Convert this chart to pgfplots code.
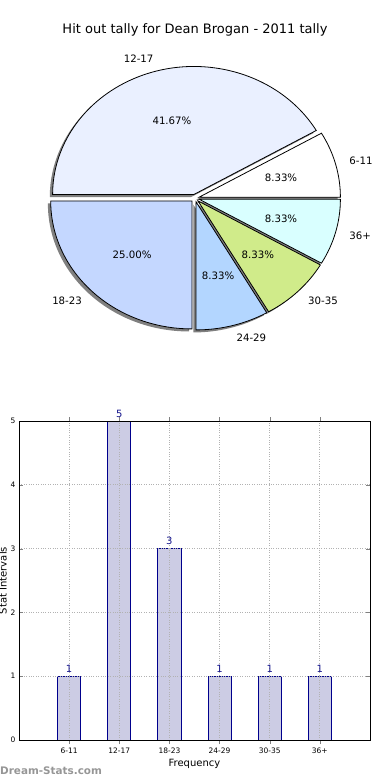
\documentclass[border=0pt]{standalone}
\usepackage{pgfplots}
\pgfplotsset{compat=1.18}
\usepackage{pgfplotstable}
\usepackage{fontspec}
\setmainfont{DejaVu Sans}

\definecolor{pieA}{RGB}{255,255,255}
\definecolor{pieB}{RGB}{234,240,255}
\definecolor{pieC}{RGB}{196,215,255}
\definecolor{pieD}{RGB}{179,214,255}
\definecolor{pieE}{RGB}{208,235,138}
\definecolor{pieF}{RGB}{217,255,255}
\definecolor{barfill}{RGB}{204,204,228}
\definecolor{baredge}{RGB}{0,0,140}
\definecolor{valcol}{RGB}{20,20,140}
\definecolor{wmark}{RGB}{150,150,150}

\pgfplotstableread{
label value col
6-11 1 pieA
12-17 5 pieB
18-23 3 pieC
24-29 1 pieD
30-35 1 pieE
36+ 1 pieF
}\piedata

\pgfplotstableread{
x label count
0 6-11 1
1 12-17 5
2 18-23 3
3 24-29 1
4 30-35 1
5 36+ 1
}\bardata

\newcommand\pief{\fontsize{10.2}{12}\selectfont}
\def\RX{141.3pt}
\def\RY{128pt}
\def\explode{0.03}

\begin{document}
\begin{tikzpicture}[x=1pt,y=1pt]
\useasboundingbox (0,0) rectangle (390,780);
\node[font=\fontsize{13}{15}\selectfont] at (195,750) {Hit out tally for Dean Brogan - 2011 tally};

% ---------------- pie ----------------
\begin{axis}[at={(195pt,581.8pt)}, anchor=center,
  width=390pt, height=384pt, scale only axis, hide axis,
  xmin=-1.38, xmax=1.38, ymin=-1.5, ymax=1.5, clip=false,
  /pgf/number format/.cd, fixed, fixed zerofill, precision=2, assume math mode=true]
\pgfplotstablegetrowsof{\piedata}
\pgfmathtruncatemacro\lastrow{\pgfplotsretval-1}
\def\total{0}
\pgfplotsforeachungrouped \i in {0,...,\lastrow}{%
  \pgfplotstablegetelem{\i}{value}\of\piedata
  \pgfmathsetmacro\total{\total+\pgfplotsretval}%
}
% shadows
\def\cum{0}
\pgfplotsforeachungrouped \i in {0,...,\lastrow}{%
  \pgfplotstablegetelem{\i}{value}\of\piedata
  \let\wval\pgfplotsretval
  \pgfmathsetmacro\wA{360*\cum/\total}%
  \pgfmathsetmacro\wB{360*(\cum+\wval)/\total}%
  \pgfmathsetmacro\wM{(\wA+\wB)/2}%
  \pgfmathsetmacro\ox{\explode*cos(\wM)-0.02}%
  \pgfmathsetmacro\oy{\explode*sin(\wM)-0.02}%
  \pgfmathsetmacro\px{\ox+cos(\wA)}%
  \pgfmathsetmacro\py{\oy+sin(\wA)}%
  \edef\cmd{\noexpand\fill[black!50] (axis cs:\ox,\oy) -- (axis cs:\px,\py) arc[start angle=\wA, end angle=\wB, x radius=\RX, y radius=\RY] -- cycle;}%
  \cmd
  \pgfmathsetmacro\cum{\cum+\wval}%
}
% wedges
\def\cum{0}
\pgfplotsforeachungrouped \i in {0,...,\lastrow}{%
  \pgfplotstablegetelem{\i}{value}\of\piedata
  \let\wval\pgfplotsretval
  \pgfplotstablegetelem{\i}{label}\of\piedata
  \let\wlab\pgfplotsretval
  \pgfplotstablegetelem{\i}{col}\of\piedata
  \let\wcol\pgfplotsretval
  \pgfmathsetmacro\wA{360*\cum/\total}%
  \pgfmathsetmacro\wB{360*(\cum+\wval)/\total}%
  \pgfmathsetmacro\wM{(\wA+\wB)/2}%
  \pgfmathsetmacro\ox{\explode*cos(\wM)}%
  \pgfmathsetmacro\oy{\explode*sin(\wM)}%
  \pgfmathsetmacro\px{\ox+cos(\wA)}%
  \pgfmathsetmacro\py{\oy+sin(\wA)}%
  \pgfmathsetmacro\tx{\ox+0.6*cos(\wM)}%
  \pgfmathsetmacro\ty{\oy+0.6*sin(\wM)}%
  \pgfmathsetmacro\lx{\ox+1.1*cos(\wM)}%
  \pgfmathsetmacro\ly{\oy+1.1*sin(\wM)}%
  \pgfmathsetmacro\pct{100*\wval/\total}%
  \pgfmathparse{cos(\wM)>0 ? 1 : 0}%
  \ifdim\pgfmathresult pt>0.5pt \def\anc{west}\else\def\anc{east}\fi
  \edef\cmd{\noexpand\filldraw[fill=\wcol, draw=black, line width=0.8pt] (axis cs:\ox,\oy) -- (axis cs:\px,\py) arc[start angle=\wA, end angle=\wB, x radius=\RX, y radius=\RY] -- cycle;}%
  \cmd
  \edef\cmd{\noexpand\node[font=\noexpand\pief, inner sep=0pt] at (axis cs:\tx,\ty) {\noexpand\pgfmathprintnumber{\pct}\noexpand\%};}%
  \cmd
  \edef\cmd{\noexpand\node[font=\noexpand\pief, inner sep=0pt, anchor=\anc] at (axis cs:\lx,\ly) {\wlab};}%
  \cmd
  \pgfmathsetmacro\cum{\cum+\wval}%
}
\end{axis}

% ---------------- bars ----------------
\begin{axis}[at={(19pt,40pt)}, anchor=south west,
  width=351pt, height=319pt, scale only axis,
  xmin=-1, xmax=6, ymin=0, ymax=5,
  xtick={0,...,5}, xticklabels={6-11,12-17,18-23,24-29,30-35,36+},
  ytick={0,...,5},
  grid=major, grid style={dotted, black!30, line width=0.8pt},
  axis on top, tick align=inside, major tick length=4pt,
  axis line style={line width=0.8pt},
  ticklabel style={font=\fontsize{7.5}{9}\selectfont},
  /pgf/number format/assume math mode=true,
  xlabel={Frequency}, ylabel={Stat Intervals},
  label style={font=\fontsize{10.5}{12}\selectfont},
  every axis x label/.style={at={(axis description cs:0.5,-0.076)}, anchor=center},
  every axis y label/.style={at={(axis description cs:-0.046,0.5)}, rotate=90, anchor=center},
  ybar, bar width=0.46, clip=false,
  nodes near coords,
  every node near coord/.append style={font=\fontsize{10}{12}\selectfont, text=valcol},
]
\addplot[ybar, fill=barfill, draw=baredge, line width=0.8pt] table[x=x, y=count] {\bardata};
\end{axis}

\node[anchor=west, inner sep=0pt, text=wmark, font=\bfseries\fontsize{10.4}{12}\selectfont] at (0,9) {Dream-Stats.com};
\end{tikzpicture}
\end{document}
